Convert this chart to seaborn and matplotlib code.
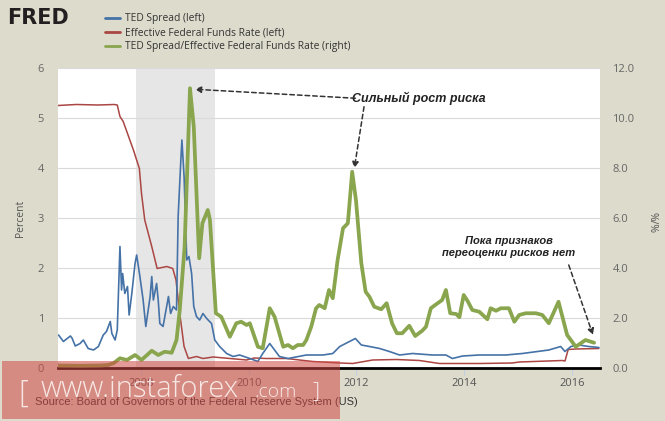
import pandas as pd
import seaborn as sns
import matplotlib.pyplot as plt
from matplotlib.patches import Rectangle

# TED spread (left axis, percent)
ted_year = [2006.47, 2006.56, 2006.69, 2006.72, 2006.78, 2006.87, 2006.93, 2007.02, 2007.12, 2007.21,
            2007.30, 2007.36, 2007.43, 2007.46, 2007.52, 2007.56, 2007.61, 2007.64, 2007.66, 2007.70,
            2007.75, 2007.78, 2007.83, 2007.89, 2007.92, 2007.98, 2008.04, 2008.09, 2008.17, 2008.20,
            2008.23, 2008.29, 2008.32, 2008.35, 2008.41, 2008.51, 2008.55, 2008.60, 2008.66, 2008.69,
            2008.74, 2008.76, 2008.80, 2008.85, 2008.89, 2008.94, 2008.98, 2009.03, 2009.09, 2009.15,
            2009.22, 2009.31, 2009.37, 2009.46, 2009.59, 2009.71, 2009.83, 2010.02, 2010.17, 2010.26,
            2010.39, 2010.48, 2010.57, 2010.73, 2011.07, 2011.38, 2011.56, 2011.69, 2011.87, 2011.98,
            2012.09, 2012.24, 2012.43, 2012.61, 2012.80, 2013.04, 2013.41, 2013.66, 2013.78, 2013.97,
            2014.28, 2014.77, 2015.08, 2015.57, 2015.79, 2015.87, 2015.98, 2016.13, 2016.31, 2016.50]
ted_value = [0.66, 0.53, 0.64, 0.60, 0.44, 0.49, 0.56, 0.39, 0.36, 0.43,
             0.66, 0.73, 0.93, 0.69, 0.56, 0.76, 2.43, 1.56, 1.89, 1.49,
             1.63, 1.06, 1.49, 2.09, 2.26, 1.83, 1.36, 0.83, 1.43, 1.83,
             1.36, 1.69, 1.36, 0.89, 0.83, 1.43, 1.09, 1.23, 1.16, 3.03,
             4.16, 4.56, 3.83, 2.16, 2.23, 1.89, 1.23, 1.03, 0.96, 1.09,
             0.99, 0.89, 0.56, 0.43, 0.29, 0.23, 0.26, 0.19, 0.13, 0.29,
             0.49, 0.36, 0.23, 0.19, 0.26, 0.26, 0.29, 0.43, 0.53, 0.59,
             0.46, 0.43, 0.39, 0.33, 0.26, 0.29, 0.26, 0.26, 0.19, 0.24,
             0.26, 0.26, 0.29, 0.36, 0.43, 0.33, 0.43, 0.46, 0.43, 0.41]

# effective federal funds rate (left axis, percent)
effr_year = [2006.46, 2006.80, 2007.20, 2007.50, 2007.56, 2007.61, 2007.67, 2007.76, 2007.86, 2007.97,
             2008.01, 2008.07, 2008.20, 2008.30, 2008.48, 2008.59, 2008.65, 2008.72, 2008.80, 2008.88,
             2009.03, 2009.15, 2009.34, 2009.65, 2009.96, 2010.10, 2010.33, 2010.70, 2010.94, 2011.19,
             2011.69, 2011.93, 2012.30, 2012.74, 2013.17, 2013.54, 2013.85, 2014.28, 2014.89, 2015.02,
             2015.82, 2015.87, 2015.93, 2016.07, 2016.50]
effr_value = [5.25, 5.27, 5.26, 5.27, 5.26, 5.03, 4.93, 4.66, 4.36, 3.99,
              3.49, 2.96, 2.43, 1.99, 2.03, 1.99, 1.76, 1.09, 0.43, 0.19,
              0.23, 0.19, 0.22, 0.19, 0.16, 0.20, 0.19, 0.19, 0.16, 0.13,
              0.10, 0.09, 0.16, 0.17, 0.15, 0.09, 0.09, 0.09, 0.10, 0.12,
              0.15, 0.14, 0.37, 0.38, 0.39]

# TED spread / EFFR (right axis, %/%)
ratio_year = [2006.46, 2006.87, 2007.24, 2007.39, 2007.49, 2007.61, 2007.74, 2007.89, 2008.01, 2008.20,
              2008.32, 2008.44, 2008.57, 2008.66, 2008.72, 2008.81, 2008.91, 2008.98, 2009.08, 2009.14,
              2009.24, 2009.28, 2009.39, 2009.49, 2009.65, 2009.77, 2009.86, 2009.96, 2010.02, 2010.17,
              2010.26, 2010.39, 2010.48, 2010.64, 2010.73, 2010.82, 2010.91, 2011.01, 2011.07, 2011.16,
              2011.25, 2011.31, 2011.41, 2011.49, 2011.56, 2011.65, 2011.75, 2011.84, 2011.92, 2011.99,
              2012.09, 2012.17, 2012.24, 2012.33, 2012.46, 2012.56, 2012.66, 2012.75, 2012.85, 2012.98,
              2013.09, 2013.22, 2013.29, 2013.38, 2013.48, 2013.59, 2013.66, 2013.74, 2013.85, 2013.91,
              2013.99, 2014.06, 2014.15, 2014.28, 2014.43, 2014.49, 2014.59, 2014.68, 2014.83, 2014.93,
              2015.02, 2015.14, 2015.33, 2015.45, 2015.57, 2015.75, 2015.91, 2016.07, 2016.25, 2016.41]
ratio_value = [0.10, 0.09, 0.10, 0.12, 0.19, 0.39, 0.32, 0.52, 0.32, 0.69,
               0.52, 0.65, 0.61, 1.12, 2.32, 4.85, 11.19, 9.65, 4.39, 5.79,
               6.32, 5.92, 2.19, 2.05, 1.25, 1.79, 1.85, 1.72, 1.79, 0.85,
               0.79, 2.39, 2.05, 0.85, 0.92, 0.79, 0.92, 0.92, 1.12, 1.65,
               2.39, 2.52, 2.39, 3.12, 2.79, 4.32, 5.59, 5.79, 7.85, 6.72,
               4.19, 3.05, 2.85, 2.45, 2.35, 2.59, 1.79, 1.39, 1.39, 1.69,
               1.28, 1.49, 1.65, 2.39, 2.55, 2.72, 3.12, 2.19, 2.16, 2.03,
               2.92, 2.69, 2.32, 2.25, 1.95, 2.39, 2.29, 2.39, 2.39, 1.85,
               2.12, 2.19, 2.19, 2.12, 1.79, 2.65, 1.32, 0.85, 1.12, 1.01]

recession_start, recession_end = 2007.90, 2009.38
year_ticks = [2008, 2010, 2012, 2014, 2016]
left_ticks = [0, 1, 2, 3, 4, 5, 6]
right_ticks = [0, 2, 4, 6, 8, 10, 12]

W, H = 665, 421
bg = "#dddbcc"

sns.set_theme(style="white")
plt.rcParams["font.family"] = ["Open Sans", "DejaVu Sans"]

fig = plt.figure(figsize=(W / 100, H / 100), dpi=100, facecolor=bg)
ax = fig.add_axes([58 / W, 53 / H, 542 / W, 300 / H])
ax.set_facecolor("white")
ax2 = ax.twinx()

ax.axvspan(recession_start, recession_end, color="#e6e6e6", zorder=0.2, lw=0)
ax.yaxis.grid(True, color="#dadada", lw=0.8, zorder=0.5)

sns.lineplot(x=effr_year, y=effr_value, ax=ax, color="#aa4643", lw=1.1,
             label="Effective Federal Funds Rate (left)", legend=False)
sns.lineplot(x=ted_year, y=ted_value, ax=ax, color="#4572a7", lw=1.2,
             label="TED Spread (left)", legend=False)
sns.lineplot(x=ratio_year, y=ratio_value, ax=ax2, color="#89a54e", lw=2.7,
             label="TED Spread/Effective Federal Funds Rate (right)", legend=False)

ax.set_xlim(2006.46, 2016.52)
ax.set_ylim(0, 6)
ax2.set_ylim(0, 12)
ax.set_xticks(year_ticks)
ax.set_xticklabels([str(y) for y in year_ticks])
ax.set_yticks(left_ticks)
ax.set_yticklabels([str(v) for v in left_ticks])
ax2.set_yticks(right_ticks)
ax2.set_yticklabels([f"{v:.1f}" for v in right_ticks])
ax.set_xlabel("")
ax.set_ylabel("")
ax2.set_ylabel("")

for a in (ax, ax2):
    for s in a.spines.values():
        s.set_visible(False)
ax.spines["bottom"].set_visible(True)
ax.spines["bottom"].set_color("black")
ax.spines["bottom"].set_linewidth(2)
ax.spines["bottom"].set_zorder(5)

ax.tick_params(axis="y", length=0, pad=10, labelsize=8, labelcolor="#666666")
ax2.tick_params(axis="y", length=0, pad=9, labelsize=8, labelcolor="#666666")
ax.tick_params(axis="x", length=5, width=0.8, color="#c0d0e0", pad=2,
               labelsize=8, labelcolor="#555555", bottom=True)

fig.text(20 / W, 1 - 218 / H, "Percent", rotation=90, ha="center", va="center",
         fontsize=7.5, color="#555555")
fig.text(652 / W, 1 - 223 / H, "%/%", rotation=-90, ha="center", va="center",
         fontsize=7.5, color="#555555")

# legend and logo
h1, l1 = ax.get_legend_handles_labels()
h2, l2 = ax2.get_legend_handles_labels()
handles = [h1[1], h1[0], h2[0]]
labels = [l1[1], l1[0], l2[0]]
leg = fig.legend(handles, labels, loc="upper left", bbox_to_anchor=(101 / W, 1 - 9 / H),
                 frameon=False, fontsize=7.4, handlelength=1.4, handletextpad=0.5,
                 labelspacing=0.3, borderaxespad=0)
for t in leg.get_texts():
    t.set_color("#333333")
for ln in leg.get_lines():
    ln.set_linewidth(2)

fig.text(7 / W, 1 - 18 / H, "FRED", fontsize=15, fontweight="heavy", color="#231f20",
         va="center", ha="left", family="DejaVu Sans")

# annotations
note_style = dict(fontsize=9, fontweight="bold", fontstyle="italic", color="#222222",
                  family="Liberation Sans")
arrow = dict(arrowstyle="-|>", color="#333333", lw=1.1, linestyle=(0, (3, 2)),
             mutation_scale=9, shrinkA=0, shrinkB=0)
ax2.text(2011.91, 10.8, "Сильный рост риска", ha="left", va="center", **note_style)
ax2.annotate("", xy=(2009.0, 11.15), xytext=(2011.98, 10.79), arrowprops=arrow)
ax2.annotate("", xy=(2011.96, 7.99), xytext=(2012.14, 10.45), arrowprops=arrow)
ax2.text(2014.83, 4.82, "Пока признаков\nпереоценки рисков нет", ha="center", va="center",
         linespacing=1.25, **dict(note_style, fontsize=8))
ax2.annotate("", xy=(2016.39, 1.32), xytext=(2015.94, 4.12), arrowprops=arrow)

# source line and watermark
fig.text(35 / W, 1 - 402 / H, "Source: Board of Governors of the Federal Reserve System (US)",
         fontsize=8, color="#333333", va="center", ha="left", family="Liberation Sans", zorder=1)
fig.patches.append(Rectangle((2 / W, 2 / H), 338 / W, 58 / H, transform=fig.transFigure,
                             facecolor="#cf4a44", alpha=0.55, lw=0, zorder=4))
wm = dict(color="white", alpha=0.8, va="baseline", zorder=6, fontweight="light")
fig.text(18 / W, 1 - 402 / H, "[", fontsize=22, **wm)
fig.text(41 / W, 1 - 397 / H, "www.instaforex", fontsize=21, **wm)
fig.text(254 / W, 1 - 397 / H, ".com", fontsize=14, **wm)
fig.text(312 / W, 1 - 397 / H, "]", fontsize=16, **wm)

fig.savefig("out.png", dpi=100, facecolor=bg)
